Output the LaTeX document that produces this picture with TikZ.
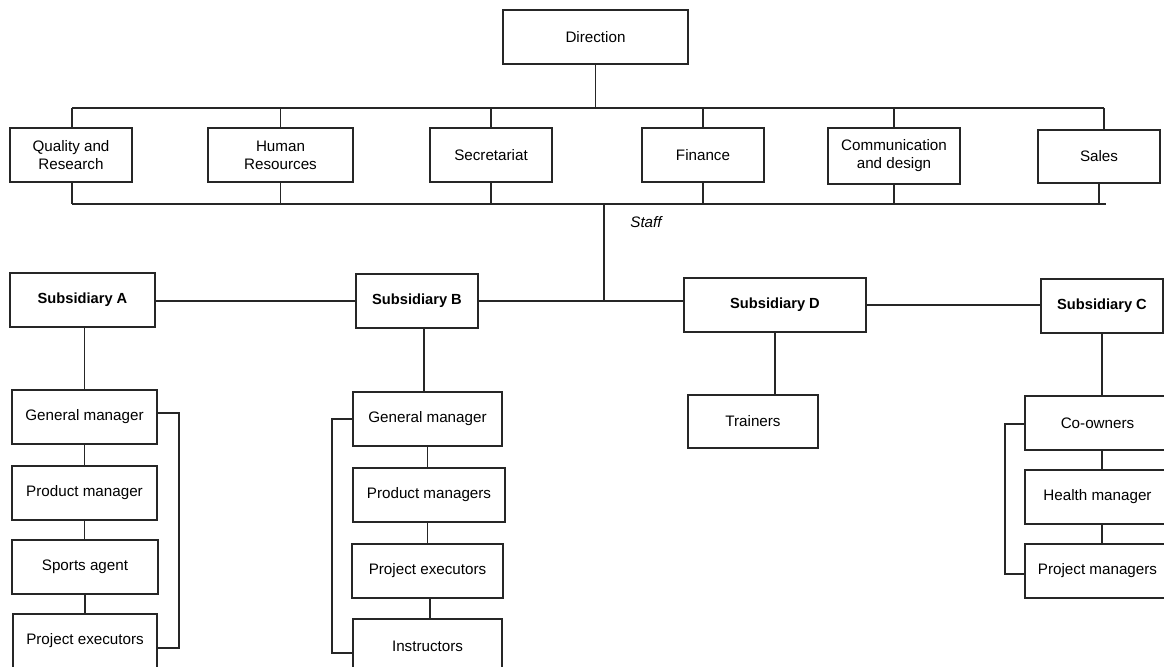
\documentclass[tikz,border=0pt]{standalone}
\usepackage{fontspec}
\setmainfont{Liberation Sans}
\begin{document}
\begin{tikzpicture}[x=0.75pt,y=-0.75pt,
  every node/.style={font=\fontsize{11.4}{13.5}\selectfont},
  box/.style={draw=black!85, line width=0.8pt, align=center, inner sep=0pt, fill=white},
  sz/.style 2 args={minimum width=#1*0.75pt, minimum height=#2*0.75pt},
  bold/.style={font=\fontsize{11}{13.5}\selectfont\bfseries},
  conn/.style={draw=black!85, line width=0.8pt}]
\useasboundingbox (0,0) rectangle (1164,667);
% top
\node[box,sz={185}{54}] (dir) at (595.5,37) {Direction};
\node[box,sz={122}{54}] (q) at (71,155) {Quality and\\Research};
\node[box,sz={145}{54}] (hr) at (280.5,155) {Human\\Resources};
\node[box,sz={122}{54}] (sec) at (491,155) {Secretariat};
\node[box,sz={122}{54}] (fin) at (703,155) {Finance};
\node[box,sz={132}{56}] (com) at (894,156) {Communication\\and design};
\node[box,sz={122}{53}] (sal) at (1099,156.5) {Sales};
\coordinate (tbL) at (72,108);
\coordinate (tbR) at (1104,108);
\coordinate (bbL) at (72,204);
\coordinate (bbR) at (1106,204);
\coordinate (st) at (604,204);
\coordinate (sj) at (604,301);
\path[conn] (dir.south) -- (dir.south |- tbL);
\path[conn] (tbL) -- (tbR);
\path[conn] (tbL) -- (tbL |- q.north);
\path[conn] (hr.north |- tbL) -- (hr.north);
\path[conn] (sec.north |- tbL) -- (sec.north);
\path[conn] (fin.north |- tbL) -- (fin.north);
\path[conn] (com.north |- tbL) -- (com.north);
\path[conn] (tbR) -- (tbR |- sal.north);
\path[conn] (bbL) -- (bbR);
\path[conn] (bbL |- q.south) -- (bbL);
\path[conn] (hr.south) -- (hr.south |- bbL);
\path[conn] (sec.south) -- (sec.south |- bbL);
\path[conn] (fin.south) -- (fin.south |- bbL);
\path[conn] (com.south) -- (com.south |- bbL);
\path[conn] (sal.south) -- (sal.south |- bbL);
\path[conn] (st) -- (sj);
\node[font=\fontsize{11.4}{13.5}\selectfont\itshape] (staff) at (646,222) {Staff};
% subsidiaries
\node[box,bold,sz={145}{54}] (subA) at (82.5,300) {Subsidiary A};
\node[box,bold,sz={122}{54}] (subB) at (417,301) {Subsidiary B};
\node[box,bold,sz={182}{54}] (subD) at (775,305) {Subsidiary D};
\node[box,bold,sz={122}{54}] (subC) at (1102,306) {Subsidiary C};
\path[conn] (subA.east |- subB.west) -- (subB.west);
\path[conn] (subB.east) -- (subB.east -| subD.west);
\path[conn] (subD.east) -- (subD.east -| subC.west);
% A
\node[box,sz={145}{54}] (ga) at (84.5,417) {General manager};
\node[box,sz={145}{54}] (pa) at (84.5,493) {Product manager};
\node[box,sz={146}{54}] (sa) at (85,567) {Sports agent};
\node[box,sz={144}{54}] (ea) at (85,641) {Project executors};
\path[conn] (subA.south -| ga.north) -- (ga.north);
\path[conn] (ga.south) -- (pa.north);
\path[conn] (pa.south) -- (pa.south |- sa.north);
\path[conn] (sa.south) -- (sa.south |- ea.north);
\coordinate (brA1) at (179,413);
\coordinate (brA2) at (179,648);
\path[conn] (ga.east |- brA1) -- (brA1) -- (brA2) -- (ea.east |- brA2);
% B
\node[box,sz={149}{54}] (gb) at (427.5,419) {General manager};
\node[box,sz={152}{54}] (pb) at (429,495) {Product managers};
\node[box,sz={151}{54}] (eb) at (427.5,571) {Project executors};
\node[box,sz={149}{54}] (ib) at (427.5,646) {Instructors};
\path[conn] (subB.south -| 424,0) -- (gb.north -| 424,0);
\path[conn] (gb.south) -- (gb.south |- pb.north);
\path[conn] (pb.south -| gb.south) -- (eb.north -| gb.south);
\path[conn] (eb.south -| 430,0) -- (ib.north -| 430,0);
\coordinate (brB1) at (332,419);
\coordinate (brB2) at (332,653);
\path[conn] (gb.west |- brB1) -- (brB1) -- (brB2) -- (ib.west |- brB2);
% D
\node[box,sz={130}{53}] (tr) at (753,421.5) {Trainers};
\path[conn] (subD.south) -- (subD.south |- tr.north);
% C
\node[box,sz={145}{54}] (co) at (1097.5,423) {Co-owners};
\node[box,sz={145}{54}] (hm) at (1097.5,497) {Health manager};
\node[box,sz={145}{54}] (pm) at (1097.5,571) {Project managers};
\path[conn] (subC.south) -- (subC.south |- co.north);
\path[conn] (co.south -| subC.south) -- (hm.north -| subC.south);
\path[conn] (hm.south -| subC.south) -- (pm.north -| subC.south);
\coordinate (brC1) at (1005,424);
\coordinate (brC2) at (1005,574);
\path[conn] (co.west |- brC1) -- (brC1) -- (brC2) -- (pm.west |- brC2);
\end{tikzpicture}
\end{document}
